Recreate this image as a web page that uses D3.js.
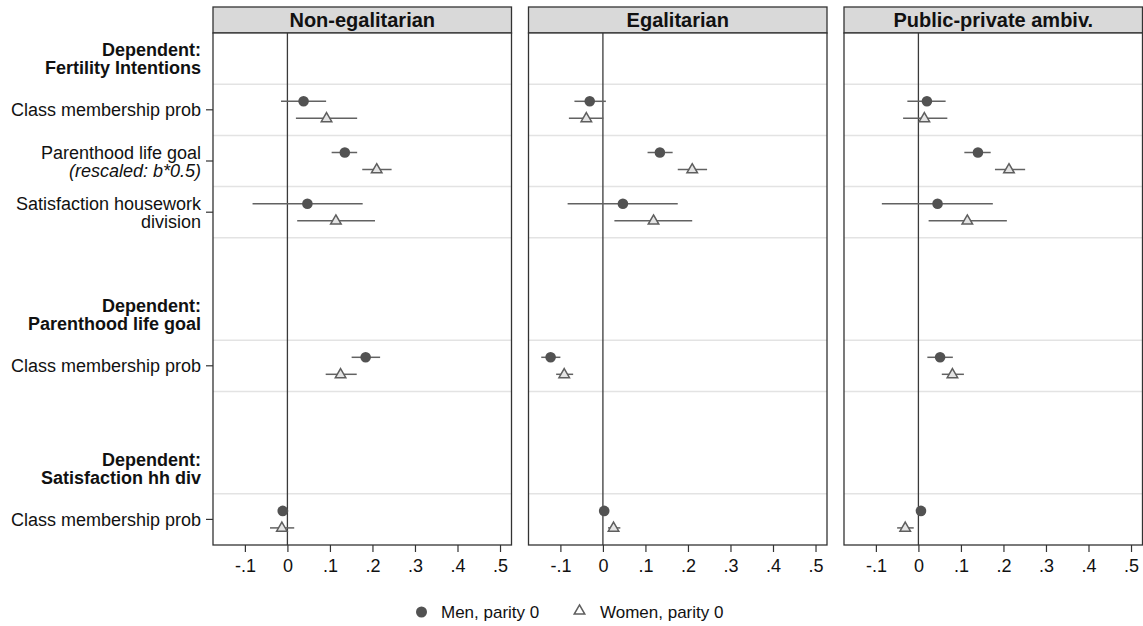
<!DOCTYPE html>
<html><head><meta charset="utf-8">
<script src="https://cdn.jsdelivr.net/npm/d3@7"></script>
<style>body{margin:0;background:#fff}svg{display:block;font-family:"Liberation Sans",Arial,sans-serif}</style>
</head><body><svg id="c" width="1143" height="626"></svg>
<script>
// ---- data ----
const panels = ["Non-egalitarian", "Egalitarian", "Public-private ambiv."];
const xTicks = [-0.1, 0, 0.1, 0.2, 0.3, 0.4, 0.5];
const xTickLabels = ["-.1", "0", ".1", ".2", ".3", ".4", ".5"];
// row slots: headings and coefficient rows (slot index from top)
const headings = [
  {slot: 0, lines: ["Dependent:", "Fertility Intentions"]},
  {slot: 5, lines: ["Dependent:", "Parenthood life goal"]},
  {slot: 8, lines: ["Dependent:", "Satisfaction hh div"]}
];
const coefSlots = [1, 2, 3, 6, 9];
const coefLabels = [
  [{t: "Class membership prob"}],
  [{t: "Parenthood life goal"}, {t: "(rescaled: b*0.5)", italic: true}],
  [{t: "Satisfaction housework"}, {t: "division"}],
  [{t: "Class membership prob"}],
  [{t: "Class membership prob"}]
];
const gridSlots = [1, 2, 3, 4, 6, 7, 9];
const series = ["Men, parity 0", "Women, parity 0"];
// estimates per panel, per coefficient row
const menEst = [
  [0.038, 0.135, 0.047, 0.184, -0.011],
  [-0.031, 0.134, 0.047, -0.123, 0.003],
  [0.020, 0.140, 0.045, 0.051, 0.006]
];
const menLo = [
  [-0.015, 0.104, -0.082, 0.151, -0.020],
  [-0.067, 0.105, -0.083, -0.145, -0.004],
  [-0.026, 0.108, -0.086, 0.021, 0.000]
];
const menHi = [
  [0.091, 0.164, 0.177, 0.218, 0.002],
  [0.007, 0.164, 0.176, -0.100, 0.010],
  [0.064, 0.170, 0.175, 0.081, 0.012]
];
const womenEst = [
  [0.092, 0.210, 0.114, 0.125, -0.013],
  [-0.039, 0.210, 0.119, -0.091, 0.025],
  [0.014, 0.213, 0.115, 0.080, -0.031]
];
const womenLo = [
  [0.020, 0.176, 0.023, 0.090, -0.041],
  [-0.080, 0.176, 0.027, -0.110, 0.012],
  [-0.036, 0.180, 0.024, 0.055, -0.050]
];
const womenHi = [
  [0.164, 0.245, 0.206, 0.163, 0.016],
  [0.001, 0.245, 0.210, -0.070, 0.041],
  [0.068, 0.251, 0.208, 0.107, -0.011]
];

// ---- layout ----
const svg = d3.select("#c");
const panelLeft = [213, 528.5, 844];
const panelW = 298.5;
const headTop = 7, plotTop = 33, plotBottom = 545;
const y = d3.scaleLinear().domain([0, 10]).range([plotTop, plotBottom]);
const off = 8.5;
const lineCol = "#626262";
const fs = 18;

// y labels
const yl = svg.append("g");
headings.forEach(h => {
  const cy = y(h.slot + 0.5);
  h.lines.forEach((l, i) => {
    yl.append("text").attr("x", 201).attr("y", cy + (i - (h.lines.length - 1) / 2) * 18 + 6.5)
      .attr("text-anchor", "end").attr("font-size", fs).attr("font-weight", "bold").attr("fill", "#111").text(l);
  });
});
coefSlots.forEach((s, k) => {
  const cy = y(s + 0.5);
  const lines = coefLabels[k];
  lines.forEach((l, i) => {
    yl.append("text").attr("x", 201).attr("y", cy + (i - (lines.length - 1) / 2) * 18 + 6.5)
      .attr("text-anchor", "end").attr("font-size", fs).attr("font-style", l.italic ? "italic" : "normal")
      .attr("fill", "#111").text(l.t);
  });
  yl.append("line").attr("x1", 206).attr("x2", panelLeft[0]).attr("y1", cy).attr("y2", cy)
    .attr("stroke", "#333").attr("stroke-width", 1.2);
});

const tri = d3.symbol().type(d3.symbolTriangle).size(48);

panels.forEach((name, p) => {
  const x0 = panelLeft[p];
  const x = d3.scaleLinear().domain([-0.175, 0.527]).range([x0, x0 + panelW]);
  const g = svg.append("g");
  // header
  g.append("rect").attr("x", x0).attr("y", headTop).attr("width", panelW).attr("height", plotTop - headTop)
    .attr("fill", "#d9d9d9").attr("stroke", "#333").attr("stroke-width", 1.3);
  g.append("text").attr("x", x0 + panelW / 2).attr("y", headTop + 20).attr("text-anchor", "middle")
    .attr("font-size", 20).attr("font-weight", "bold").attr("fill", "#111").text(name);
  // plot region
  g.append("rect").attr("x", x0).attr("y", plotTop).attr("width", panelW).attr("height", plotBottom - plotTop)
    .attr("fill", "#fff");
  // grid
  g.selectAll("line.grid").data(gridSlots).join("line")
    .attr("x1", x0).attr("x2", x0 + panelW).attr("y1", d => y(d)).attr("y2", d => y(d))
    .attr("stroke", "#e3e3e3").attr("stroke-width", 1.5);
  // zero line
  g.append("line").attr("x1", x(0)).attr("x2", x(0)).attr("y1", plotTop).attr("y2", plotBottom)
    .attr("stroke", "#3a3a3a").attr("stroke-width", 1.3);
  // x axis
  const ax = d3.axisBottom(x).tickValues(xTicks).tickFormat((d, i) => xTickLabels[i]).tickSize(7).tickSizeOuter(0);
  const axg = g.append("g").attr("transform", `translate(0,${plotBottom})`).call(ax);
  axg.select(".domain").remove();
  axg.selectAll(".tick line").attr("stroke", "#333").attr("stroke-width", 1.2);
  axg.selectAll(".tick text").attr("font-size", fs).attr("fill", "#111").attr("dy", "0.92em")
    .attr("font-family", "Liberation Sans, Arial, sans-serif");
  // border
  g.append("rect").attr("x", x0).attr("y", plotTop).attr("width", panelW).attr("height", plotBottom - plotTop)
    .attr("fill", "none").attr("stroke", "#333").attr("stroke-width", 1.3);

  // CIs & markers
  const rows = coefSlots.map((s, k) => ({s, k}));
  g.selectAll("line.mci").data(rows).join("line")
    .attr("x1", d => x(menLo[p][d.k])).attr("x2", d => x(menHi[p][d.k]))
    .attr("y1", d => y(d.s + 0.5) - off).attr("y2", d => y(d.s + 0.5) - off)
    .attr("stroke", lineCol).attr("stroke-width", 1.5);
  g.selectAll("line.wci").data(rows).join("line")
    .attr("x1", d => x(womenLo[p][d.k])).attr("x2", d => x(womenHi[p][d.k]))
    .attr("y1", d => y(d.s + 0.5) + off).attr("y2", d => y(d.s + 0.5) + off)
    .attr("stroke", lineCol).attr("stroke-width", 1.5);
  g.selectAll("circle.m").data(rows).join("circle")
    .attr("cx", d => x(menEst[p][d.k])).attr("cy", d => y(d.s + 0.5) - off).attr("r", 5.3)
    .attr("fill", "#525252");
  g.selectAll("path.w").data(rows).join("path")
    .attr("d", tri)
    .attr("transform", d => `translate(${x(womenEst[p][d.k])},${y(d.s + 0.5) + off + 0.3})`)
    .attr("fill", "#e4e4e4").attr("stroke", "#5e5e5e").attr("stroke-width", 1.5);
});

// legend
const lg = svg.append("g");
lg.append("circle").attr("cx", 421.5).attr("cy", 612).attr("r", 5.5).attr("fill", "#525252");
lg.append("text").attr("x", 441).attr("y", 618).attr("font-size", 17).attr("fill", "#111").text(series[0]);
lg.append("path").attr("d", tri).attr("transform", "translate(579.5,611)")
  .attr("fill", "#fff").attr("stroke", "#5e5e5e").attr("stroke-width", 1.5);
lg.append("text").attr("x", 600).attr("y", 618).attr("font-size", 17).attr("fill", "#111").text(series[1]);
</script></body></html>
